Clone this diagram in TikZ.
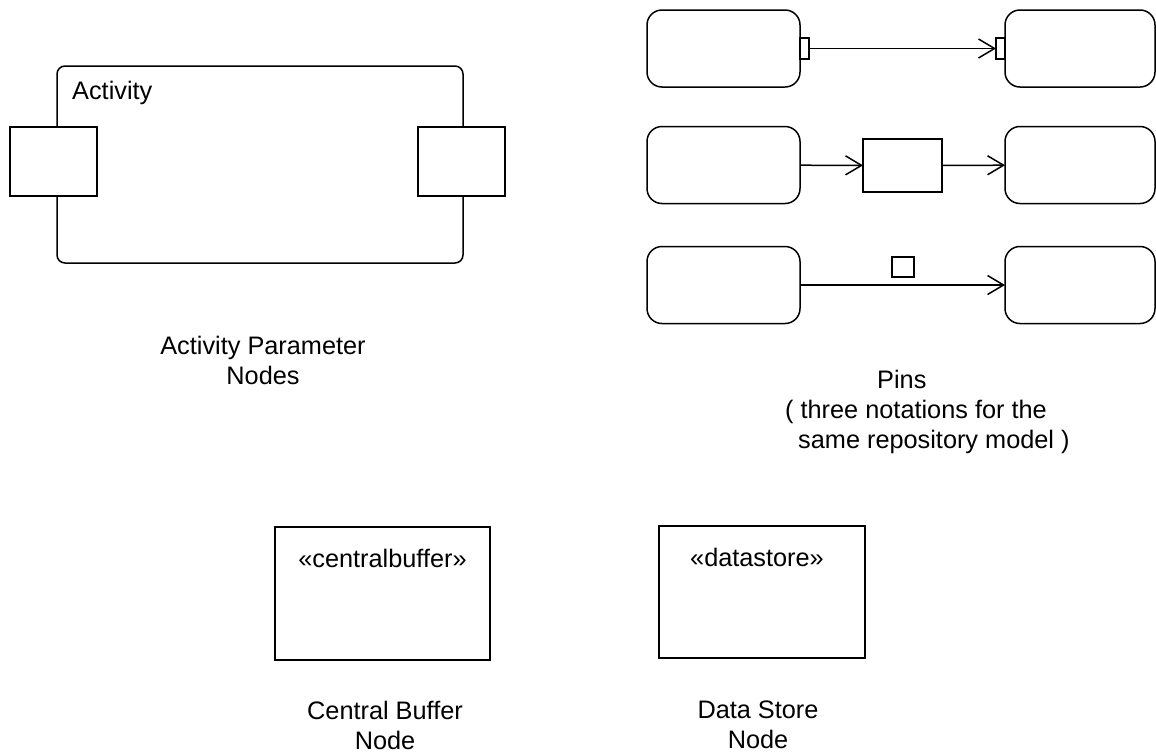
\documentclass[tikz,border=0pt]{standalone}
\usepackage{fontspec}
\setmainfont{Liberation Sans}
\usetikzlibrary{arrows.meta}
\tikzset{
  actbox/.style={draw, line width=1.5pt, rounded corners=15pt, minimum width=153pt, minimum height=77pt, inner sep=0pt, outer sep=0pt},
  pinbox/.style={draw, line width=1.5pt, minimum width=9pt, minimum height=21pt, inner sep=0pt, outer sep=0pt},
  objbox/.style={draw, line width=1.5pt, inner sep=0pt, outer sep=0pt},
  caption/.style={align=center, inner sep=0pt, font=\fontsize{25.3}{30}\selectfont},
  flow/.style={line width=1.5pt, -{Straight Barb[length=16pt,width=19pt,line width=1.5pt]}}
}
\begin{document}
\begin{tikzpicture}[x=1pt,y=-1pt]
                        \useasboundingbox (0,0) rectangle (1156,753);
                        % activity parameter nodes
                        \node[objbox, rounded corners=8pt, minimum width=406pt, minimum height=197pt] (act) at (260,164.5) {};
                        \node[caption, anchor=west] (actname) at (72,93) {Activity};
                        \node[objbox, fill=white, minimum width=87pt, minimum height=69pt] (parin) at (53.5,161.5) {};
                        \node[objbox, fill=white, minimum width=87pt, minimum height=69pt] (parout) at (461.5,161.5) {};
                        \node[caption] (actlabel) at (263,360) {Activity Parameter\\Nodes};
                        % pins, first notation
                        \node[actbox] (src1) at (723.5,48.5) {};
                        \node[actbox, minimum width=150pt] (dst1) at (1080,48.5) {};
                        \node[pinbox] (pout1) at (804.5,48.5) {};
                        \node[pinbox] (pin1) at (1000.5,48.5) {};
                        \draw[flow] (pout1) -- (pin1);
                        % pins, second notation
                        \node[actbox] (src2) at (723.5,165) {};
                        \node[actbox, minimum width=150pt] (dst2) at (1080,165) {};
                        \node[objbox, minimum width=79pt, minimum height=53pt] (obj2) at (902.5,165.5) {};
                        \draw[flow] (src2) -- (obj2);
                        \draw[flow] (obj2) -- (dst2);
                        % pins, third notation
                        \node[actbox] (src3) at (723.5,285) {};
                        \node[actbox, minimum width=150pt] (dst3) at (1080,285) {};
                        \node[objbox, minimum width=22pt, minimum height=20pt] (obj3) at (903,267) {};
                        \draw[flow] (src3) -- (dst3);
                        \node[caption, align=left, anchor=west] (pinlabel) at (785,412) {\hspace{92pt}Pins\\( three notations for the\\\hspace{13pt}same repository model )};
                        % central buffer and data store
                        \node[objbox, minimum width=215pt, minimum height=133pt] (buffer) at (382.5,593.5) {};
                        \node[caption] (buffername) at (382.5,558) {«centralbuffer»};
                        \node[caption] (bufferlabel) at (385,725) {Central Buffer\\Node};
                        \node[objbox, minimum width=206pt, minimum height=132pt] (store) at (762,592) {};
                        \node[caption] (storename) at (757,557) {«datastore»};
                        \node[caption] (storelabel) at (758,725) {Data Store\\Node};
                    \end{tikzpicture}
\end{document}
